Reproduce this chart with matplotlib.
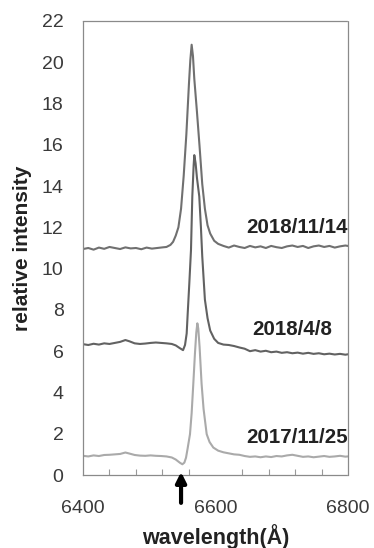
import matplotlib
matplotlib.use("Agg")
import matplotlib.pyplot as plt
from matplotlib.ticker import FixedLocator

# ---- data ----
wl_1114 = [6400, 6408, 6416, 6424, 6432, 6440, 6448, 6456, 6464, 6472, 6480, 6488,
           6496, 6504, 6512, 6520, 6526, 6532, 6536, 6540, 6544, 6548, 6552, 6556,
           6560, 6562, 6564, 6566, 6568, 6572, 6576, 6580, 6584, 6588, 6592, 6598,
           6604, 6612, 6620, 6628, 6636, 6644, 6652, 6660, 6668, 6676, 6684, 6692,
           6700, 6708, 6716, 6724, 6732, 6740, 6748, 6756, 6764, 6772, 6780, 6788,
           6796, 6800]
int_1114 = [10.95, 11.00, 10.92, 11.02, 10.96, 11.05, 11.00, 10.95, 11.03, 10.98, 11.00, 10.94,
            11.02, 10.97, 11.00, 11.03, 11.05, 11.15, 11.30, 11.60, 12.00, 12.90, 14.50, 16.50,
            19.00, 20.10, 20.85, 20.30, 19.20, 17.60, 15.90, 14.10, 12.90, 12.10, 11.70, 11.35,
            11.20, 11.10, 11.02, 11.12, 11.05, 11.00, 11.10, 11.03, 11.08, 11.00, 11.10, 11.04,
            11.00, 11.08, 11.12, 11.05, 11.10, 11.00, 11.08, 11.12, 11.05, 11.10, 11.02, 11.08,
            11.12, 11.10]

wl_0408 = [6400, 6408, 6416, 6424, 6432, 6440, 6448, 6456, 6464, 6470, 6478, 6486,
           6494, 6502, 6510, 6518, 6526, 6534, 6540, 6546, 6551, 6554, 6556.5, 6558,
           6560.5, 6563, 6565, 6567, 6568, 6570, 6572, 6575.5, 6578, 6580, 6584, 6588,
           6592, 6598, 6604, 6612, 6620, 6628, 6636, 6644, 6652, 6660, 6668, 6676,
           6684, 6692, 6700, 6708, 6716, 6724, 6732, 6740, 6748, 6756, 6764, 6772,
           6780, 6788, 6796, 6800]
int_0408 = [6.34, 6.30, 6.36, 6.32, 6.38, 6.35, 6.40, 6.45, 6.54, 6.48, 6.38, 6.35,
            6.37, 6.40, 6.42, 6.40, 6.38, 6.35, 6.28, 6.15, 6.05, 6.30, 6.86, 7.80,
            9.30, 10.90, 13.50, 15.00, 15.50, 15.10, 14.40, 13.50, 12.00, 10.60, 8.50, 7.60,
            7.00, 6.60, 6.40, 6.32, 6.30, 6.25, 6.18, 6.12, 6.00, 6.05, 5.98, 6.02,
            5.95, 5.98, 5.92, 5.95, 5.90, 5.93, 5.88, 5.92, 5.87, 5.90, 5.85, 5.88,
            5.84, 5.87, 5.83, 5.85]

wl_1125 = [6400, 6408, 6416, 6424, 6432, 6440, 6448, 6456, 6464, 6470, 6478, 6486,
           6494, 6502, 6510, 6518, 6526, 6534, 6540, 6546, 6550, 6553, 6555.5, 6558,
           6561.5, 6564, 6566.5, 6569, 6571, 6572.6, 6574, 6576, 6579, 6582, 6586.7, 6591,
           6596.7, 6604, 6612, 6620, 6628, 6636, 6644, 6652, 6660, 6668, 6676, 6684,
           6692, 6700, 6708, 6716, 6724, 6732, 6740, 6748, 6756, 6764, 6772, 6780,
           6788, 6796, 6800]
int_1125 = [0.93, 0.90, 0.95, 0.92, 0.97, 0.98, 1.00, 1.02, 1.09, 1.04, 0.97, 0.94,
            0.93, 0.95, 0.93, 0.92, 0.90, 0.85, 0.75, 0.60, 0.52, 0.60, 0.84, 1.30,
            1.98, 3.00, 4.42, 5.90, 6.90, 7.35, 7.10, 6.20, 4.42, 3.20, 1.98, 1.60,
            1.33, 1.18, 1.10, 1.05, 1.00, 0.98, 0.92, 0.88, 0.90, 0.86, 0.90, 0.87,
            0.92, 0.90, 0.95, 0.98, 0.93, 0.88, 0.90, 0.86, 0.89, 0.92, 0.88, 0.90,
            0.93, 0.89, 0.90]

labels = ["2018/11/14", "2018/4/8", "2017/11/25"]
x_tick_labels = ["6400", "6600", "6800"]
y_tick_labels = ["0", "2", "4", "6", "8", "10", "12", "14", "16", "18", "20", "22"]
arrow_wl = 6548

plt.rcParams['font.family'] = ['Liberation Sans', 'DejaVu Sans']

fig = plt.figure(figsize=(3.74, 5.48), dpi=100)
ax = fig.add_axes([0.2219, 0.1332, 0.9305 - 0.2219, 0.9617 - 0.1332])

ax.plot(wl_1114, int_1114, color='#707070', lw=1.5)
ax.plot(wl_0408, int_0408, color='#626262', lw=1.5)
ax.plot(wl_1125, int_1125, color='#aaaaaa', lw=1.5)

ax.set_xlim(6400, 6800)
ax.set_ylim(0, 22)

ax.xaxis.set_major_locator(FixedLocator([float(v) for v in x_tick_labels]))
ax.set_xticklabels(x_tick_labels)
ax.xaxis.set_minor_locator(FixedLocator(list(range(6440, 6800, 40))))
ax.yaxis.set_major_locator(FixedLocator([float(v) for v in y_tick_labels]))
ax.set_yticklabels(y_tick_labels)

ax.tick_params(axis='both', which='major', length=0, labelsize=14, colors='#3a3a3a')
ax.tick_params(axis='x', which='major', pad=18)
ax.tick_params(axis='y', which='major', pad=14)
ax.tick_params(axis='x', which='minor', direction='in', length=4, width=0.8, color='#999999')

for sp in ax.spines.values():
    sp.set_linestyle((0, (1, 1)))
    sp.set_color('#8a8a8a')
    sp.set_linewidth(0.9)

txt_kw = dict(fontsize=14.8, fontweight='bold', color='#222222', ha='right', va='center')
ax.text(6800, 12.0, labels[0], **txt_kw)
ax.text(6776, 7.07, labels[1], **txt_kw)
ax.text(6800, 1.8, labels[2], **txt_kw)

ax.annotate('', xy=(arrow_wl, 0.15), xytext=(arrow_wl, -1.35),
            arrowprops=dict(arrowstyle='-|>,head_length=0.6,head_width=0.3',
                            color='black', lw=3.0, shrinkA=0, shrinkB=0),
            annotation_clip=False)

fig.text(23 / 374, 1 - 248 / 548, 'relative intensity', rotation=90, fontsize=15,
         fontweight='bold', color='#222222', ha='center', va='center')
fig.text(216 / 374, 1 - 537 / 548, 'wavelength(Å)', fontsize=15.5,
         fontweight='bold', color='#222222', ha='center', va='center')

fig.savefig('out.png', dpi=100)
